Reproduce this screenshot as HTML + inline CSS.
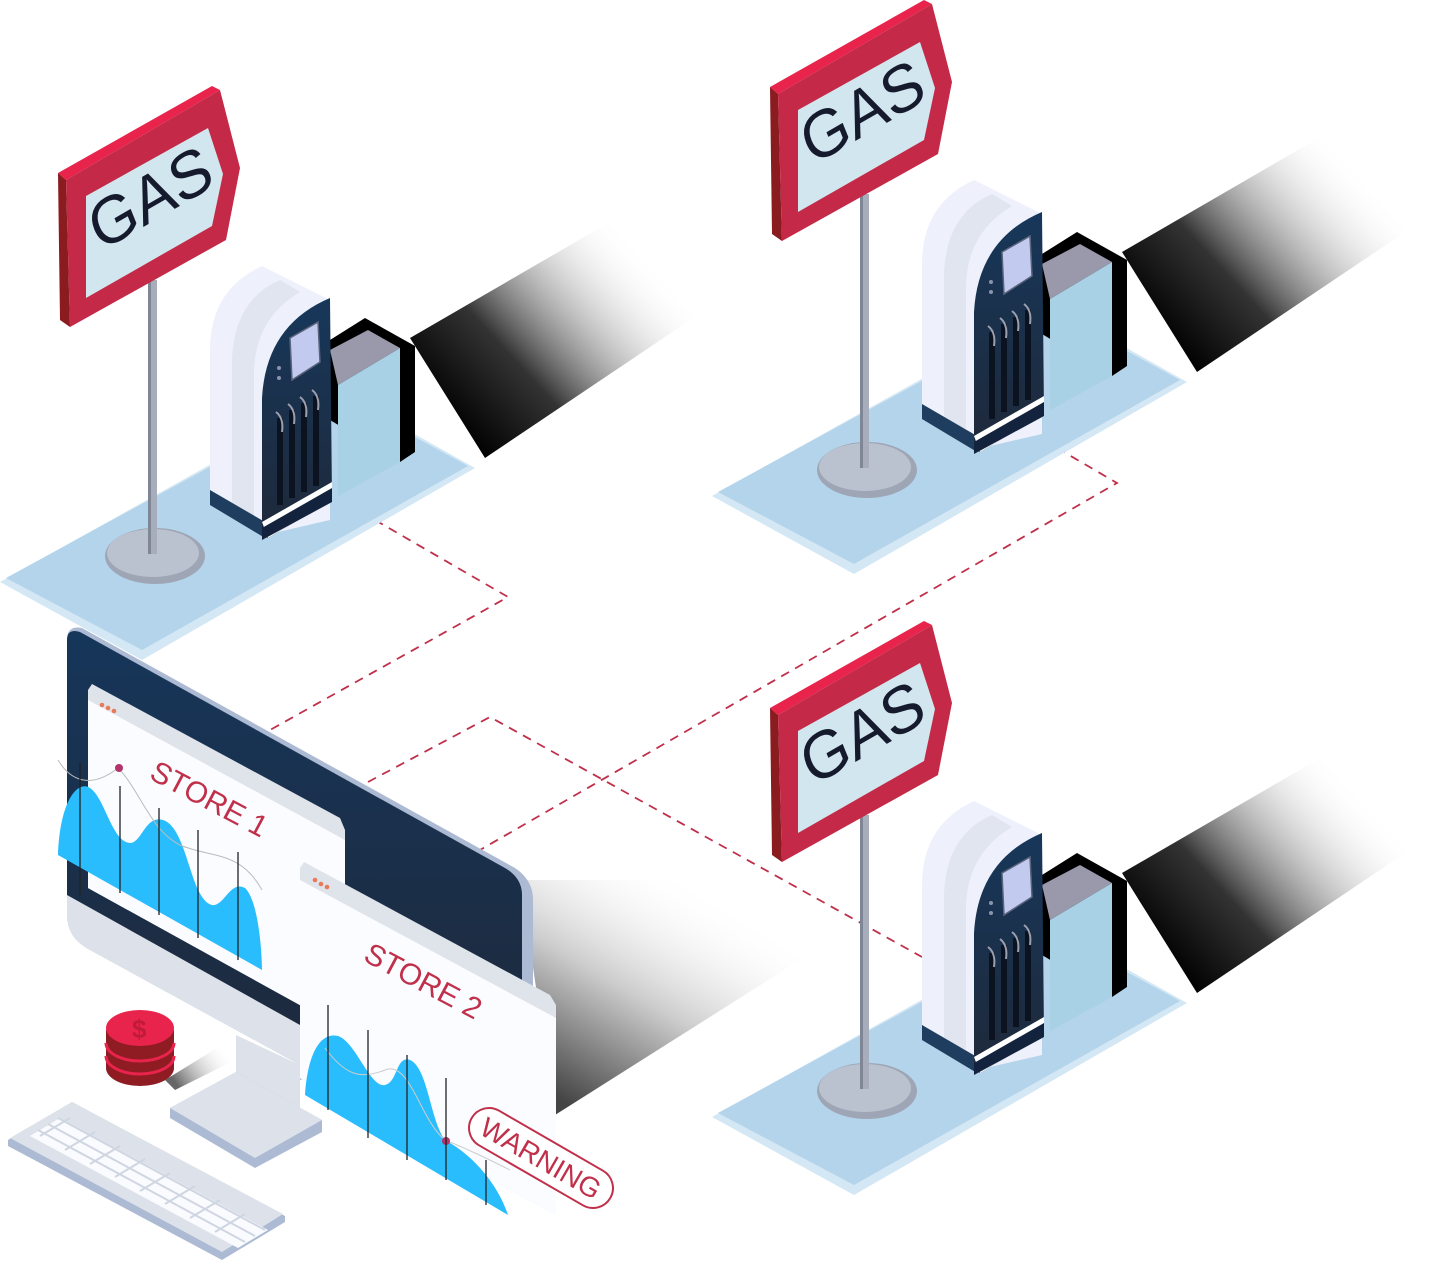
<!DOCTYPE html>
<html><head><meta charset="utf-8"><style>
html,body{margin:0;padding:0;background:#fff;width:1435px;height:1261px;overflow:hidden}
svg{display:block}
.gas{font-family:"Liberation Sans",sans-serif;font-size:64px;fill:#151a2c}
.st{font-family:"Liberation Sans",sans-serif;font-size:30px;fill:#c0304a}
</style></head><body>
<svg width="1435" height="1261" viewBox="0 0 1435 1261" xmlns="http://www.w3.org/2000/svg">
<defs>
<linearGradient id="band" x1="470" y1="445" x2="660" y2="270" gradientUnits="userSpaceOnUse">
<stop offset="0" stop-color="#000"/><stop offset="0.35" stop-color="#333"/><stop offset="1" stop-color="#fff" stop-opacity="0"/></linearGradient>
<linearGradient id="msh" x1="560" y1="1100" x2="690" y2="880" gradientUnits="userSpaceOnUse">
<stop offset="0" stop-color="#444"/><stop offset="0.5" stop-color="#ccc"/><stop offset="1" stop-color="#fff" stop-opacity="0"/></linearGradient>
<linearGradient id="csh" x1="170" y1="1075" x2="220" y2="1040" gradientUnits="userSpaceOnUse">
<stop offset="0" stop-color="#666"/><stop offset="1" stop-color="#fff" stop-opacity="0"/></linearGradient>
<linearGradient id="front" x1="0" y1="300" x2="0" y2="520" gradientUnits="userSpaceOnUse">
<stop offset="0" stop-color="#17375a"/><stop offset="1" stop-color="#1e2a3c"/></linearGradient>
<linearGradient id="scr" x1="0" y1="630" x2="0" y2="1000" gradientUnits="userSpaceOnUse">
<stop offset="0" stop-color="#16365a"/><stop offset="1" stop-color="#1d2b40"/></linearGradient>
<g id="station">
  <polygon points="0,582 340,392 475,468 142,660" fill="#d4e7f4"/>
  <polygon points="6,578 340,396 468,466 142,650" fill="#b3d4ea"/>
  <polygon points="410,338 610,222 720,300 485,458" fill="url(#band)"/>
  <ellipse cx="155" cy="556" rx="50" ry="28" fill="#9ea6b6"/>
  <ellipse cx="153" cy="553" rx="46" ry="24" fill="#bac1cf"/>
  <rect x="148" y="280" width="9" height="274" fill="#a7adbb"/>
  <rect x="148" y="280" width="3" height="274" fill="#7f8696"/>
  <polygon points="58,173 212,86 220,90 66,180" fill="#e8234c"/>
  <polygon points="58,173 66,180 70,327 60,320" fill="#8a1b1f"/>
  <polygon points="66,180 220,90 240,168 226,240 70,327" fill="#c42a47"/>
  <polygon points="86,196 208,128 223,174 212,226 86,298" fill="#d1e6ef"/>
  <polygon points="330,340 365,318 415,346 415,452 400,462 330,420" fill="#000"/>
  <polygon points="330,350 368,330 400,348 338,385" fill="#9a98ab"/>
  <polygon points="338,385 400,348 400,462 338,496" fill="#a9d1e6"/>
  <path d="M210,495 L210,350 Q210,290 262,266 L330,300 L330,520 L265,535 Z" fill="#eef1fc"/>
  <path d="M232,505 L232,360 Q234,300 280,280 L300,292 Q256,318 254,370 L254,515 Z" fill="#e0e5ef"/>
  <polygon points="210,490 265,522 265,538 210,505" fill="#1f3d5e"/>
  <path d="M262,535 L262,398 Q266,325 330,298 L332,500 L268,538 Z" fill="url(#front)"/>
  <polygon points="262,522 332,482 332,500 268,538" fill="#fff"/>
  <polygon points="262,528 332,488 332,502 262,540" fill="#14233d"/>
  <polygon points="290,338 318,322 320,362 292,380" fill="#c3caef" stroke="#5a647c" stroke-width="1.5"/>
  <circle cx="279" cy="368" r="2" fill="#8a94ad"/><circle cx="279" cy="378" r="2" fill="#8a94ad"/>
  <g fill="none" stroke="#0b1220" stroke-width="6">
    <path d="M280,418 L280,505"/><path d="M292,410 L292,498"/><path d="M304,403 L304,492"/><path d="M316,396 L316,486"/>
  </g>
  <g fill="none" stroke="#9aa0b0" stroke-width="2">
    <path d="M276,412 q8,6 6,20"/><path d="M288,404 q8,6 6,20"/><path d="M300,397 q8,6 6,20"/><path d="M312,390 q8,6 6,20"/>
  </g>
</g>
</defs>

<polygon points="520,880 700,880 800,960 555,1115" fill="url(#msh)"/>

<g fill="none" stroke="#c0304a" stroke-width="1.8" stroke-dasharray="9,7">
  <polyline points="375,520 508,597 270,730"/>
  <polyline points="1057,448 1117,483 480,850"/>
  <polyline points="368,782 490,717 922,957"/>
</g>

<use href="#station"/>
<text class="gas" transform="translate(100,252) rotate(-30) skewX(-8)">GAS</text>
<use href="#station" transform="translate(712,-86)"/>
<text class="gas" transform="translate(812,166) rotate(-30) skewX(-8)">GAS</text>
<use href="#station" transform="translate(712,535)"/>
<text class="gas" transform="translate(812,787) rotate(-30) skewX(-8)">GAS</text>

<path d="M67,640 Q67,625 82,628 L515,868 Q533,880 533,900 L533,1010 L300,1080 L300,1065 L90,950 Q67,938 67,915 Z" fill="#acbad3"/>
<path d="M67,640 Q67,628 80,632 L505,868 Q522,878 522,895 L522,990 L300,1040 L67,905 Z" fill="url(#scr)"/>
<path d="M67,895 L300,1025 L300,1065 L90,950 Q67,938 67,915 Z" fill="#dde2ea"/>
<polygon points="236,1035 300,1065 300,1120 236,1090" fill="#dde2ea"/>
<polygon points="170,1108 236,1072 322,1120 322,1132 255,1168 170,1118" fill="#acbad3"/>
<polygon points="170,1108 236,1072 322,1120 255,1158" fill="#dde2ea"/>
<polygon points="88,690 92,684 340,818 345,830 345,1030 88,888" fill="#dfe3ea"/>
<polygon points="88,700 345,840 345,1030 88,888" fill="#fbfcff"/>
<circle cx="102" cy="705" r="2.3" fill="#e87a5a"/><circle cx="108" cy="708" r="2.3" fill="#e87a5a"/><circle cx="114" cy="711" r="2.3" fill="#e87a5a"/>
<path d="M58,855 C60,800 78,780 90,788 C105,798 112,842 130,843 C142,843 145,815 163,820 C188,828 190,900 212,905 C224,907 230,880 245,888 C258,900 262,950 262,970 Z" fill="#29bdfd"/>
<path d="M58,760 C70,780 90,790 118,768 C140,790 150,830 180,845 C210,858 240,850 262,890" fill="none" stroke="#bbb" stroke-width="1"/>
<circle cx="119" cy="768" r="4" fill="#b3336a"/>
<g stroke="#222" stroke-width="1.3">
<line x1="80" y1="762" x2="80" y2="895"/><line x1="120" y1="786" x2="120" y2="893"/><line x1="159" y1="808" x2="159" y2="915"/><line x1="198" y1="830" x2="198" y2="938"/><line x1="238" y1="852" x2="238" y2="960"/>
</g>
<text class="st" transform="translate(148,778) rotate(28)">STORE 1</text>
<polygon points="300,868 304,862 550,995 556,1005 556,1215 300,1078" fill="#dfe3ea"/>
<polygon points="300,880 556,1018 556,1215 300,1078" fill="#fbfcff"/>
<circle cx="315" cy="880" r="2.3" fill="#e87a5a"/><circle cx="321" cy="884" r="2.3" fill="#e87a5a"/><circle cx="327" cy="887" r="2.3" fill="#e87a5a"/>
<path d="M305,1095 C308,1050 322,1032 338,1036 C356,1042 370,1088 385,1085 C398,1082 396,1055 410,1060 C428,1068 430,1120 445,1140 C478,1158 500,1190 508,1215 Z" fill="#29bdfd"/>
<path d="M325,1048 C345,1075 360,1080 385,1070 C410,1060 420,1120 445,1140 C470,1150 490,1160 510,1170" fill="none" stroke="#ccc" stroke-width="1"/>
<circle cx="446" cy="1141" r="4" fill="#b3336a"/>
<g stroke="#222" stroke-width="1.3">
<line x1="328" y1="1005" x2="328" y2="1110"/><line x1="368" y1="1030" x2="368" y2="1138"/><line x1="407" y1="1055" x2="407" y2="1160"/><line x1="446" y1="1078" x2="446" y2="1180"/><line x1="486" y1="1160" x2="486" y2="1205"/>
</g>
<text class="st" transform="translate(362,960) rotate(28)">STORE 2</text>
<g transform="translate(541,1158) rotate(30)">
<rect x="-80" y="-20" width="160" height="40" rx="20" fill="#fff" stroke="#c0304a" stroke-width="2"/>
<text x="0" y="10" text-anchor="middle" class="st" style="font-size:28px">WARNING</text>
</g>
<polygon points="165,1080 230,1040 245,1055 175,1090" fill="url(#csh)"/>
<path d="M106,1030 L106,1068 A34,18 0 0,0 174,1068 L174,1030 Z" fill="#8e1c22"/>
<path d="M106,1043 A34,18 0 0,0 174,1043 M106,1056 A34,18 0 0,0 174,1056" fill="none" stroke="#e8234c" stroke-width="3"/>
<ellipse cx="140" cy="1028" rx="34" ry="18" fill="#e8234c"/>
<text x="132" y="1038" style="font-family:'Liberation Sans',sans-serif;font-size:26px;font-weight:bold;fill:#c01c38">$</text>
<polygon points="8,1140 72,1102 285,1216 285,1222 222,1260 8,1146" fill="#acbad3"/>
<polygon points="10,1138 72,1102 283,1214 222,1252" fill="#dde2ea"/>
<polygon points="30,1136 60,1118 268,1230 238,1248" fill="#fafbfe"/>
<g stroke="#cfd6e2" stroke-width="2">
<line x1="38" y1="1130" x2="245" y2="1242"/><line x1="48" y1="1124" x2="255" y2="1236"/><line x1="58" y1="1118" x2="265" y2="1230"/>
<line x1="70" y1="1118" x2="40" y2="1136"/><line x1="95" y1="1132" x2="65" y2="1150"/><line x1="120" y1="1146" x2="90" y2="1164"/><line x1="145" y1="1159" x2="115" y2="1177"/><line x1="170" y1="1173" x2="140" y2="1191"/><line x1="195" y1="1186" x2="165" y2="1204"/><line x1="220" y1="1200" x2="190" y2="1218"/><line x1="245" y1="1214" x2="215" y2="1232"/>
</g>
</svg>
</body></html>
